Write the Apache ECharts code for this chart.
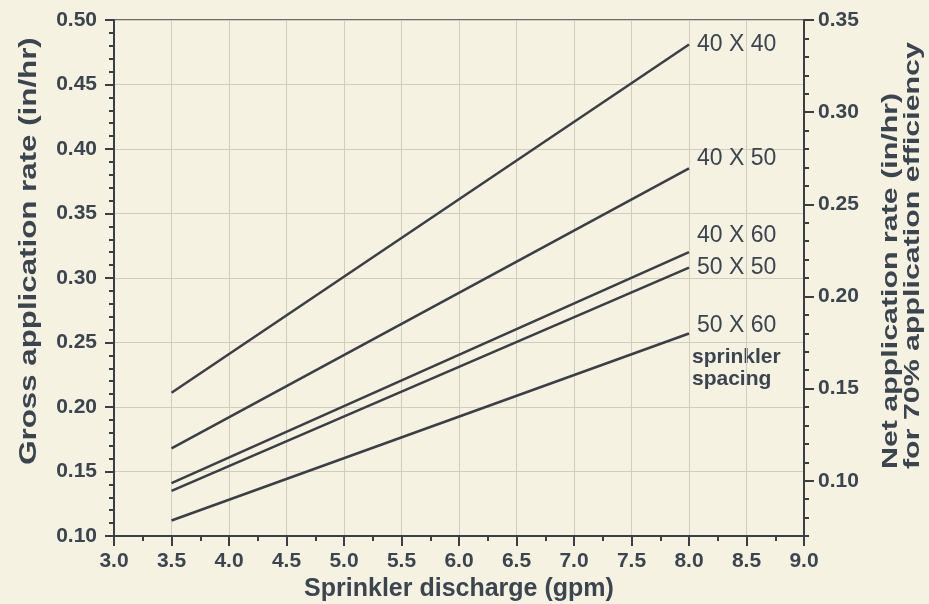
<!DOCTYPE html>
<html>
<head>
<meta charset="utf-8">
<script src="https://cdn.jsdelivr.net/npm/echarts@6/dist/echarts.min.js"></script>
<style>
html,body{margin:0;padding:0;background:#f5f2e2;}
#c{width:929px;height:604px;}
</style>
</head>
<body>
<div id="c"></div>
<script>
// Data
const spacings = ['40 X 40', '40 X 50', '40 X 60', '50 X 50', '50 X 60'];
const dischargeX = [3.5, 8.0];
const rate40x40 = [0.211, 0.481];
const rate40x50 = [0.168, 0.385];
const rate40x60 = [0.141, 0.320];
const rate50x50 = [0.135, 0.308];
const rate50x60 = [0.112, 0.257];
const rightTickLabels = [0.10, 0.15, 0.20, 0.25, 0.30, 0.35];

const seriesValues = [rate40x40, rate40x50, rate40x60, rate50x50, rate50x60];
const labelDy = [0, -10, -17, 0, -8];

const FONT = "'Liberation Sans', Arial, Helvetica, sans-serif";
const TXT = '#3b4550';
const LINE = '#3a3f45';
const GRIDC = '#cfcdc0';

const chart = echarts.init(document.getElementById('c'));
chart.setOption({
  backgroundColor: '#f5f2e2',
  animation: false,
  grid: {left: 114, right: 125, top: 20, bottom: 68, show: true, borderColor: LINE, borderWidth: 1.5,
    backgroundColor: 'transparent', outerBoundsMode: 'none', containLabel: false},
  xAxis: {
    type: 'value', min: 3.0, max: 9.0, interval: 0.5,
    name: 'Sprinkler discharge (gpm)', nameLocation: 'middle', nameGap: 41,
    nameTextStyle: {fontFamily: FONT, fontWeight: 'bold', fontSize: 25, color: TXT},
    axisLine: {show: true, lineStyle: {color: LINE, width: 2}},
    axisTick: {show: true, length: 10, lineStyle: {color: LINE, width: 2}},
    minorTick: {show: true, splitNumber: 2, length: 5, lineStyle: {color: LINE, width: 2}},
    axisLabel: {fontFamily: FONT, fontWeight: 'bold', fontSize: 21, color: TXT, margin: 15,
      formatter: v => v.toFixed(1)},
    splitLine: {show: true, lineStyle: {color: GRIDC, width: 1}}
  },
  yAxis: [
    {
      type: 'value', min: 0.10, max: 0.50, interval: 0.05, position: 'left',
      axisLine: {show: true, lineStyle: {color: LINE, width: 2}},
      axisTick: {show: true, length: 9, lineStyle: {color: LINE, width: 2}},
      minorTick: {show: true, splitNumber: 5, length: 5, lineStyle: {color: LINE, width: 2}},
      axisLabel: {fontFamily: FONT, fontWeight: 'bold', fontSize: 21, color: TXT, margin: 17,
        formatter: v => v.toFixed(2)},
      splitLine: {show: true, lineStyle: {color: GRIDC, width: 1}}
    },
    {
      type: 'value', min: 0.07, max: 0.35, position: 'right',
      axisLine: {show: true, lineStyle: {color: LINE, width: 2}},
      axisTick: {show: true, length: 10, customValues: rightTickLabels, lineStyle: {color: LINE, width: 2}},
      axisLabel: {fontFamily: FONT, fontWeight: 'bold', fontSize: 21, color: TXT, margin: 14,
        customValues: rightTickLabels, formatter: v => v.toFixed(2)},
      splitLine: {show: false}
    },
    {
      type: 'value', min: 0.07, max: 0.35, interval: 0.01, position: 'right',
      axisLine: {show: false},
      axisTick: {show: true, length: 5, lineStyle: {color: LINE, width: 2}},
      axisLabel: {show: false},
      splitLine: {show: false}
    }
  ],
  series: spacings.map((name, i) => ({
    name: name,
    type: 'line',
    yAxisIndex: 0,
    showSymbol: false,
    symbol: 'none',
    lineStyle: {color: LINE, width: 2.5},
    data: dischargeX.map((x, j) => [x, seriesValues[i][j]]),
    endLabel: {show: true, formatter: name, distance: 8, offset: [0, labelDy[i]],
      fontFamily: FONT, fontSize: 23, color: TXT},
    emphasis: {disabled: true}
  })),
  graphic: [
    {
      type: 'text', x: 692, y: 346,
      style: {text: 'sprinkler\nspacing', font: 'bold 21px ' + FONT, fill: TXT, lineHeight: 22}
    },
    {
      type: 'text', x: 30, y: 251, rotation: Math.PI / 2, scaleX: 1.36,
      style: {text: 'Gross application rate (in/hr)', font: 'bold 23px ' + FONT, fill: TXT,
        align: 'center', verticalAlign: 'middle'}
    },
    {
      type: 'text', x: 902, y: 469, rotation: Math.PI / 2, scaleX: 1.38,
      style: {text: 'Net application rate (in/hr)\nfor 70% application efficiency',
        font: 'bold 22px ' + FONT, fill: TXT, lineHeight: 22,
        align: 'left', verticalAlign: 'middle'}
    }
  ]
});
</script>
</body>
</html>
